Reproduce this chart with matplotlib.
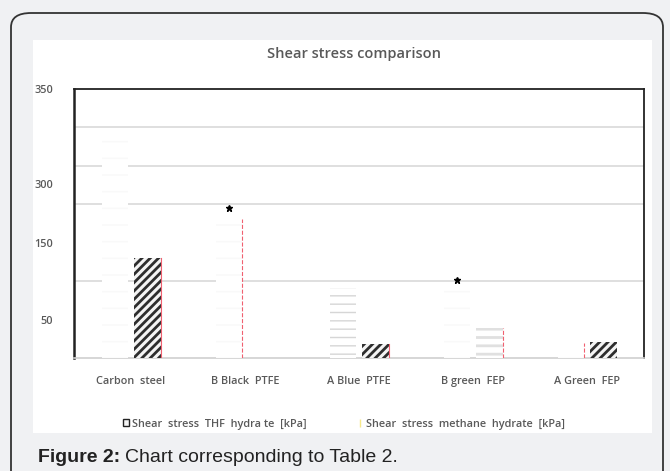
import numpy as np
import matplotlib.pyplot as plt
from matplotlib.patches import FancyBboxPatch, Rectangle, Patch
from matplotlib.lines import Line2D

categories = ['Carbon  steel', 'B Black  PTFE', 'A Blue  PTFE', 'B green  FEP', 'A Green  FEP']
methane = [290, 181, 91, 88, 20]   # Shear stress methane hydrate [kPa]
thf = [130, 0, 18, 39, 21]         # Shear stress THF hydrate [kPa]
starred = [False, True, False, True, False]  # asterisk above methane bar
ytick_vals = [50, 150, 226, 350]
ytick_labels = ['50', '150', '300', '350']

txt = '#595959'
lfont = 'Open Sans'

fig = plt.figure(figsize=(6.7, 4.71), dpi=100)
fig.patch.set_facecolor('#f0f1f3')

# rounded frame and white chart panel
fig.patches.append(FancyBboxPatch((11 / 670, -0.05), 652 / 670, 1 - 13 / 471 + 0.05,
                                  boxstyle='round,pad=0,rounding_size=0.03',
                                  transform=fig.transFigure, facecolor='#f0f1f3',
                                  edgecolor='#333333', linewidth=1.3, zorder=-2))
fig.patches.append(Rectangle((33 / 670, 1 - 433 / 471), 619 / 670, 393 / 471,
                             transform=fig.transFigure, facecolor='white',
                             edgecolor='none', zorder=-1))

ax = fig.add_axes([74 / 670, 1 - 358 / 471, 570 / 670, 269 / 471])
ax.set_facecolor('white')
x = np.arange(len(categories))
w = 0.23

with plt.rc_context({'hatch.linewidth': 1.0}):
    mbars = ax.bar(x - 0.14, methane, w, color='white', hatch='-', edgecolor='#f9f9f9',
                   linewidth=0, zorder=3)
with plt.rc_context({'hatch.linewidth': 2.0}):
    tbars = ax.bar(x + 0.145, thf, w, color='#f4f4f4', hatch='////', edgecolor='#2e2e2e',
                   linewidth=0, zorder=3)

# individual bar styling seen in the picture
mbars[2].set_hatch('--')
mbars[2].set_edgecolor('#d6d6d6')
tbars[3].set_hatch('--')
tbars[3].set_facecolor('white')
tbars[3].set_edgecolor('#e0e0e0')

# red edges on the right of some bars
red_edges = [(tbars[0], '-'), (mbars[1], '--'), (tbars[2], '-'), (tbars[3], '--'), (mbars[4], '--')]
for b, ls in red_edges:
    xr = b.get_x() + b.get_width()
    ax.plot([xr, xr], [0, b.get_height()], color='#f06070', lw=0.8, ls=ls, zorder=4)

for i, s in enumerate(starred):
    if s:
        ax.plot(mbars[i].get_x() + mbars[i].get_width() * 0.5, methane[i] + 14, marker='*',
                color='black', markersize=5, zorder=5)

ax.set_xlim(-0.5, len(categories) - 0.5)
ax.set_ylim(0, 350)
ax.set_xticks(x, categories)
ax.set_yticks(ytick_vals, ytick_labels)
ax.set_yticks(np.arange(50, 301, 50), minor=True)
ax.grid(True, which='minor', axis='y', color='#d9d9d9', lw=1.2, zorder=0)
ax.tick_params(length=0, which='both', colors=txt, labelsize=7.8)
ax.tick_params(axis='x', pad=13)
ax.tick_params(axis='y', pad=15)
for lbl in ax.get_xticklabels() + ax.get_yticklabels():
    lbl.set_fontweight('semibold')
    lbl.set_family(lfont)
for side in ['left', 'top', 'right']:
    ax.spines[side].set_color('#222222')
    ax.spines[side].set_linewidth(1.3)
ax.spines['left'].set_linewidth(1.8)
ax.spines['bottom'].set_color('#d0d0d0')
ax.spines['bottom'].set_linewidth(1.2)

fig.text(354 / 670, 1 - 54 / 471, 'Shear stress comparison', ha='center', va='center',
         color=txt, fontsize=10.5, family=lfont, fontweight='semibold')

with plt.rc_context({'hatch.linewidth': 0.8}):
    handles = [Patch(facecolor='#f4f4f4', edgecolor='#222222', linewidth=1),
               Line2D([], [], color='#f7e98a', lw=0, marker='|', markersize=6)]
fig.legend(handles, ['Shear  stress  THF  hydra te  [kPa]', 'Shear  stress  methane  hydrate  [kPa]'],
           loc='center', bbox_to_anchor=(344 / 670, 1 - 424 / 471), ncol=2, frameon=False,
           handlelength=0.6, handleheight=0.6, handletextpad=0.3, columnspacing=4.6,
           prop={'family': lfont, 'size': 7.8, 'weight': 'semibold'}, labelcolor=txt)

t = fig.text(38 / 670, 1 - 458 / 471, 'Figure 2:', ha='left', va='center', fontsize=14,
             family='Liberation Sans', fontweight='bold', color='#222222')
fig.canvas.draw()
bb = t.get_window_extent()
fig.text(bb.x1 / 670 + 5 / 670, 1 - 458 / 471, 'Chart corresponding to Table 2.', ha='left',
         va='center', fontsize=14, family='Liberation Sans', color='#222222')

fig.savefig('out.png', dpi=100, facecolor=fig.get_facecolor())
